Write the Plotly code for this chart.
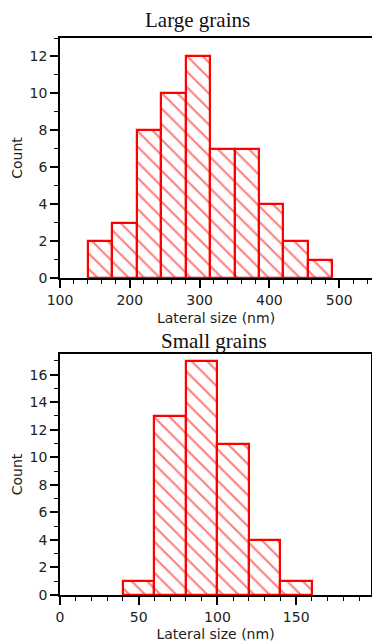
import plotly.graph_objects as go

# Large grains histogram
large_edges = [140, 175, 210, 245, 280, 315, 350, 385, 420, 455, 490]
large_counts = [2, 3, 8, 10, 12, 7, 7, 4, 2, 1]

# Small grains histogram
small_edges = [40, 60, 80, 100, 120, 140, 160]
small_counts = [1, 13, 17, 11, 4, 1]

titles = ["Large grains", "Small grains"]
x_label = "Lateral size (nm)"
y_label = "Count"


def centers(edges):
    return [(a + b) / 2 for a, b in zip(edges[:-1], edges[1:])]


def widths(edges):
    return [b - a for a, b in zip(edges[:-1], edges[1:])]


RED = "#ff0000"
pattern = dict(shape="\\", fgcolor=RED, bgcolor="white", size=11, solidity=0.2, fillmode="overlay")

fig = go.Figure()
fig.add_trace(go.Bar(x=centers(large_edges), y=large_counts, width=widths(large_edges),
                     marker=dict(color="white", line=dict(color=RED, width=2.2), pattern=pattern),
                     xaxis="x", yaxis="y", showlegend=False))
fig.add_trace(go.Bar(x=centers(small_edges), y=small_counts, width=widths(small_edges),
                     marker=dict(color="white", line=dict(color=RED, width=2.2), pattern=pattern),
                     xaxis="x2", yaxis="y2", showlegend=False))

tickfont = dict(family="DejaVu Sans", size=14, color="#222")
titlefont = dict(family="DejaVu Sans", size=14, color="#222")

def xaxis(rng, dtick, minor_dtick, domain, mirror, anchor, standoff):
    return dict(range=rng, dtick=dtick, domain=domain, anchor=anchor, automargin=False,
                showgrid=False, zeroline=False, showline=True, linecolor="black", linewidth=1.5,
                mirror=mirror, ticks="outside", ticklen=8, tickwidth=1.5, tickcolor="black",
                minor=dict(dtick=minor_dtick, ticks="outside", ticklen=4, tickwidth=1.2,
                           tickcolor="black", showgrid=False),
                tickfont=tickfont, title=dict(text=x_label, font=titlefont, standoff=standoff))

def yaxis(rng, domain, mirror, anchor):
    return dict(range=rng, dtick=2, domain=domain, anchor=anchor, automargin=False,
                showgrid=False, zeroline=False, showline=True, linecolor="black", linewidth=1.5,
                mirror=mirror, ticks="outside", ticklen=8, tickwidth=1.5, tickcolor="black",
                minor=dict(dtick=1, ticks="outside", ticklen=4, tickwidth=1.2,
                           tickcolor="black", showgrid=False),
                tickfont=tickfont, title=dict(text=y_label, font=titlefont, standoff=4))

x1 = xaxis([100, 547], 100, 20, [0, 1], True, "y", 7)
x2 = xaxis([0, 197.5], 50, 10, [0, 311 / 312], True, "y2", 6)
y1 = yaxis([0, 13], [0.569, 1.0], False, "x")
y2 = yaxis([0, 17.5], [0, 0.4327], True, "x2")

fig.update_layout(
    width=372, height=644,
    margin=dict(l=60, r=0, t=38, b=49),
    paper_bgcolor="white", plot_bgcolor="white",
    bargap=0,
    xaxis=x1, yaxis=y1, xaxis2=x2, yaxis2=y2,
    annotations=[
        dict(text=titles[0], x=197, y=20, xref="paper", yref="paper", showarrow=False,
             xanchor="center", yanchor="middle",
             font=dict(family="Liberation Serif", size=21, color="#111")),
        dict(text=titles[1], x=214, y=341, xref="paper", yref="paper", showarrow=False,
             xanchor="center", yanchor="middle",
             font=dict(family="Liberation Serif", size=21, color="#111")),
    ],
)

# convert pixel-based title positions to paper fractions
plot_w = 372 - 60
plot_h = 644 - 38 - 49
for ann in fig.layout.annotations:
    px, py = ann.x, ann.y
    ann.x = (px - 60) / plot_w
    ann.y = (644 - 49 - py) / plot_h

fig.write_html("out.html", config={"displayModeBar": False},
               post_script="document.body.style.margin='0';document.body.style.overflow='hidden';")
